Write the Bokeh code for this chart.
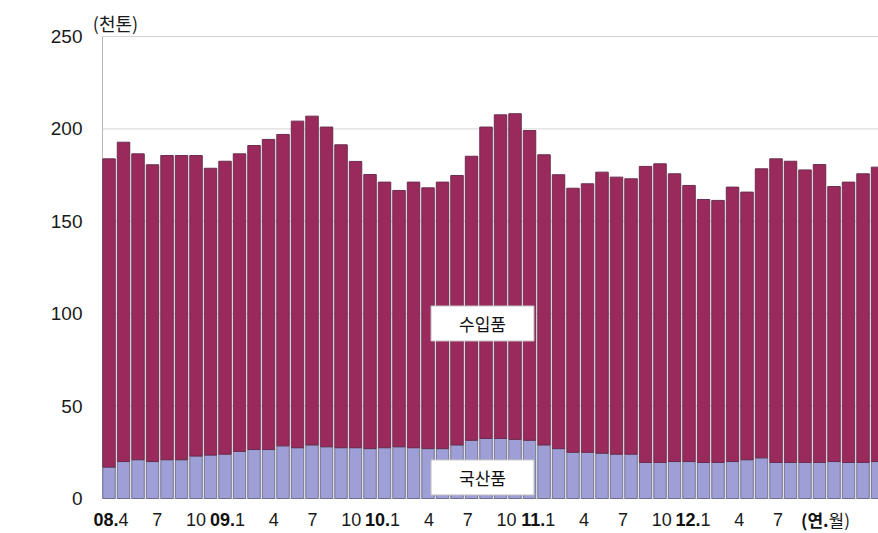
from bokeh.plotting import figure
from bokeh.models import Range1d, FixedTicker, Label, ColumnDataSource
from bokeh.embed import file_html
from bokeh.resources import INLINE

# ---- data (monthly, from 2008.4) ----
months = list(range(54))
domestic = [17, 20, 21, 20, 21, 21, 23, 23.5, 24, 25.5, 26.5, 26.5, 28.5, 27.5, 29, 28,
            27.5, 27.5, 27, 27.5, 28, 27.5, 27, 27, 29, 31.5, 32.5, 32.5, 32, 31.5, 29, 27,
            25, 25, 24.5, 24, 24, 19.5, 19.5, 20, 20, 19.5, 19.5, 20, 21, 22, 19.5, 19.5,
            19.5, 19.5, 20, 19.5, 19.5, 20]
imported = [166.8, 172.8, 165.5, 160.6, 164.6, 164.6, 162.6, 155.2, 158.5, 161.0, 164.5, 167.8,
            168.5, 176.7, 177.9, 173.0, 163.9, 154.9, 148.3, 143.7, 138.7, 143.7, 141.1, 144.2,
            145.8, 153.7, 168.5, 175.1, 176.2, 167.6, 157.0, 148.2, 142.9, 145.3, 152.1, 149.9,
            149.0, 160.2, 161.6, 155.7, 149.4, 142.3, 141.8, 148.5, 144.8, 156.4, 164.3, 163.0,
            158.3, 161.2, 148.8, 151.7, 156.2, 159.3]
series_names = ["국산품", "수입품"]
y_ticks = [0, 50, 100, 150, 200, 250]
tick_labels = ["08.4", "7", "10", "09.1", "4", "7", "10", "10.1", "4", "7", "10",
               "11.1", "4", "7", "10", "12.1", "4", "7"]
unit_label = "(천톤)"
x_unit_label = ["(연.", "월)"]

# ---- style / layout ----
MAROON = "#9b2a5c"
LAVENDER = "#9d9fd6"
BAR_W = 0.86
W, H = 878, 533
LEFT = 88             # frame left edge (px)
AXIS_PX = 102         # y-axis line / first bar edge (px)
PX_PER_BAR = 14.5
Y_TOP_PX, Y_ZERO_PX = 36, 498   # px positions of 250 and 0
LABEL_OFFSET = 0.653
LABEL_STEP = 2.676
NUM_FONT = "Liberation Sans"
KR_FONT = "Noto Sans CJK KR"

ppu = (Y_ZERO_PX - Y_TOP_PX) / (max(y_ticks) - min(y_ticks))
y_lo = -(H - Y_ZERO_PX) / ppu
y_hi = max(y_ticks) + Y_TOP_PX / ppu

axis_x = -BAR_W / 2 - 0.02
x_start = axis_x - (AXIS_PX - LEFT) / PX_PER_BAR
x_end = x_start + (W - LEFT) / PX_PER_BAR

src = ColumnDataSource(dict(x=months, dom=domestic, imp=imported))

p = figure(width=W, height=H, output_backend="svg", toolbar_location=None,
           x_range=Range1d(x_start, x_end), y_range=Range1d(y_lo, y_hi),
           x_axis_type=None, min_border_left=LEFT, min_border_right=0,
           min_border_top=0, min_border_bottom=0)
p.outline_line_color = None
p.background_fill_color = "white"

p.yaxis.ticker = FixedTicker(ticks=y_ticks)
p.yaxis.axis_line_color = None
p.yaxis.major_tick_line_color = None
p.yaxis.minor_tick_line_color = None
p.yaxis.major_label_standoff = 0
p.yaxis.major_label_text_font = NUM_FONT
p.yaxis.major_label_text_font_size = "19px"
p.yaxis.major_label_text_color = "#1a1a1a"
p.ygrid.grid_line_color = None

# grid lines and y axis line (from the axis to the right)
p.segment(x0=[axis_x] * len(y_ticks), y0=y_ticks, x1=[x_end] * len(y_ticks), y1=y_ticks,
          line_color="#d6d6d6", line_width=1)
p.segment(x0=[axis_x], y0=[min(y_ticks)], x1=[axis_x], y1=[max(y_ticks)],
          line_color="#b8b8b8", line_width=1)

p.vbar_stack(["dom", "imp"], x="x", width=BAR_W, source=src,
             fill_color=[LAVENDER, MAROON],
             line_color=["#70708a", "#6a2d4e"], line_width=1)

# unit label
p.add_layout(Label(x=axis_x + 13 / PX_PER_BAR, y=max(y_ticks) + 14 / ppu, text=unit_label,
                   text_align="center", text_baseline="middle",
                   text_font=KR_FONT, text_font_size="18px", text_color="#1a1a1a"))

# x tick labels
LY = -21 / ppu
for k, lab in enumerate(tick_labels):
    xk = LABEL_OFFSET + LABEL_STEP * k
    if "." in lab:
        pre, mon = lab.split(".")
        p.add_layout(Label(x=xk, y=LY, text=pre + ".", text_align="right",
                           text_baseline="middle", text_font=NUM_FONT,
                           text_font_style="bold", text_font_size="18px",
                           text_color="#111111"))
        p.add_layout(Label(x=xk, y=LY, text=mon, text_align="left",
                           text_baseline="middle", text_font=NUM_FONT,
                           text_font_size="18px", text_color="#1a1a1a"))
    else:
        p.add_layout(Label(x=xk, y=LY, text=lab, text_align="center",
                           text_baseline="middle", text_font=NUM_FONT,
                           text_font_size="18px", text_color="#1a1a1a"))

xu = LABEL_OFFSET + LABEL_STEP * 18.3
p.add_layout(Label(x=xu, y=LY, text=x_unit_label[0], text_align="right",
                   text_baseline="middle", text_font=KR_FONT, text_font_style="bold",
                   text_font_size="17px", text_color="#111111"))
p.add_layout(Label(x=xu, y=LY, text=x_unit_label[1], text_align="left",
                   text_baseline="middle", text_font=KR_FONT,
                   text_font_size="17px", text_color="#1a1a1a"))

# series labels in boxes
box_x = axis_x + (482 - AXIS_PX) / PX_PER_BAR
for name, yv in zip(series_names, [11.4, 94.7]):
    p.add_layout(Label(x=box_x, y=yv, text=name, text_align="center",
                       text_baseline="middle", text_font=KR_FONT,
                       text_font_size="17px", text_color="#111111",
                       background_fill_color="white", border_line_color="#c4c4c4",
                       border_line_width=1, padding=(28, 5)))

open("out.html", "w").write(file_html(p, INLINE))
